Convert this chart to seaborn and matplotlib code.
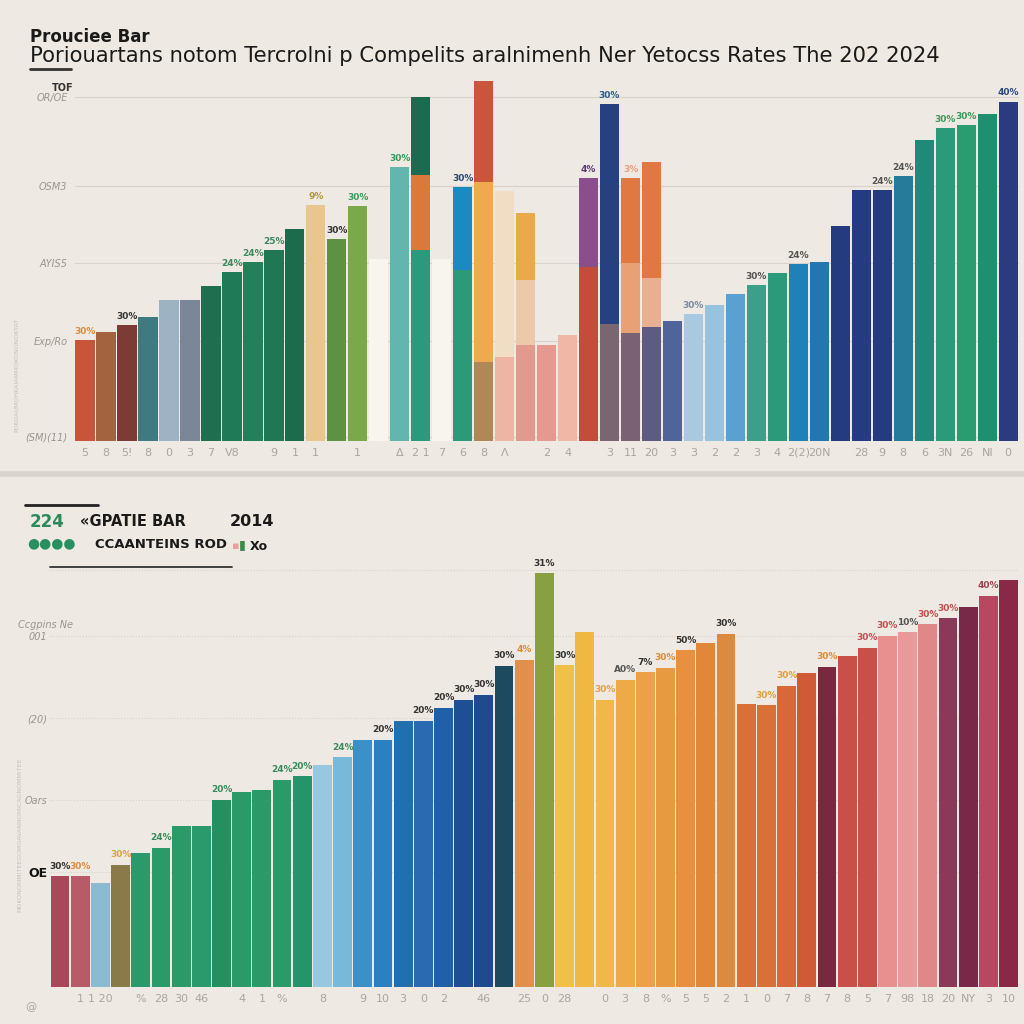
import matplotlib
matplotlib.use("Agg")
import pandas as pd
import matplotlib.pyplot as plt
from matplotlib.lines import Line2D
import seaborn as sns

# ---- top panel data (45 slots, two pale "blank" slots in the middle) ----
top_vals = [29.4, 31.7, 33.7, 36.0, 41.0, 41.0, 45.1, 49.1, 52.0, 55.5, 61.6,
            68.6, 58.7, 68.3, 53.0, 79.7, 100.0, 53.0, 73.8, 104.9, 72.7, 66.3,
            27.9, 30.8, 76.5, 98.0, 76.5, 81.1, 34.9, 36.9, 39.5, 42.7, 45.3,
            48.8, 51.5, 52.0, 62.5, 73.0, 73.0, 77.0, 87.5, 91.0, 91.9, 95.1, 98.8]
top_colors = ['#c8553a', '#a3633f', '#7d3b36', '#3f7a80', '#9db3c4', '#7b8699',
              '#1f6e50', '#1e7a57', '#22805a', '#1f7853', '#1b6b4c', '#e8c68e',
              '#5f9142', '#7aa84a', '#f8f5ef', '#63b6ad', '#1c6a50', '#f8f5ef',
              '#1a8bc2', '#c9553a', '#f1dcc4', '#e9ab4a', '#e5998f', '#f0b7a6',
              '#8b4e8d', '#27407f', '#e07844', '#e07844', '#4f6599', '#a9c9e1',
              '#97c3df', '#5aa1d2', '#3aa08a', '#2a9a7a', '#2081b9', '#2575b0',
              '#253b80', '#243a83', '#253b80', '#267b9b', '#1f8a78', '#2a9a78',
              '#2a9d70', '#1f8f70', '#2a3b80']
# middle / lower segments of the patchy stacked bars (0 = none)
top_mid = [0] * 16 + [77.3, 0, 0, 75.3, 0, 46.8, 0, 0, 50.6, 0, 51.7, 47.4] + [0] * 17
top_mid_colors = ['#dc7838'] * 45
top_mid_colors[19] = '#efa94f'
top_mid_colors[21] = '#ecc9aa'
top_mid_colors[24] = '#c54b3b'
top_mid_colors[26] = '#e8a074'
top_mid_colors[27] = '#e8b090'
top_low = [0] * 16 + [55.5, 0, 49.7, 23.0, 24.4, 27.9, 0, 0, 0, 34.0, 31.4, 33.1] + [0] * 17
top_low_colors = ['#2a9a7c'] * 45
top_low_colors[18] = '#2a9a78'
top_low_colors[19] = '#b08858'
top_low_colors[20] = '#eeb4a4'
top_low_colors[21] = '#e39a8e'
top_low_colors[25] = '#7a6670'
top_low_colors[26] = '#7b6272'
top_low_colors[27] = '#5d5a84'

top_xticks = ['5', '8', '5!', '8', '0', '3', '7', 'V8', '', '9', '1', '1', '', '1',
              '', 'Δ', '2 1', '7', '6', '8', 'Λ', '', '2', '4', '', '3', '11', '20',
              '3', '3', '2', '2', '3', '4', '2(2)', '20N', '', '28', '9', '8', '6',
              '3N', '26', 'NI', '0']
top_yticks = [1.2, 29.0, 51.7, 74.1, 100.0]
top_ytick_labels = ['(SM)(11)', 'Exp/Ro', 'AYIS5', 'OSM3', 'OR/OE']
top_bar_text = ['30%', '', '30%', '', '', '', '', '24%', '24%', '25%', '', '9%',
                '30%', '30%', '', '30%', '', '', '30%', '', '', '', '', '', '4%',
                '30%', '3%', '', '', '30%', '', '', '30%', '', '24%', '', '', '',
                '24%', '24%', '', '30%', '30%', '', '40%']
top_text_colors = ['#e08a3a', '#333', '#333', '#333', '#333', '#333', '#333',
                   '#3a8a5a', '#3a8a5a', '#3a8a5a', '#333', '#b09a30', '#333',
                   '#3a9a5a', '#333', '#3a9a5a', '#333', '#333', '#2a4a70', '#333',
                   '#333', '#333', '#333', '#333', '#5a3a70', '#2a5a8a', '#e8a080',
                   '#333', '#333', '#7a8aa0', '#333', '#333', '#555', '#333', '#555',
                   '#333', '#333', '#333', '#555', '#555', '#333', '#3a9a5a',
                   '#3a9a5a', '#333', '#2a4a80']

# ---- bottom panel data (48 bars) ----
bot_vals = [31.6, 31.6, 29.6, 34.8, 38.2, 39.6, 45.9, 45.9, 53.3, 55.6, 56.1,
            59.0, 60.1, 63.2, 65.5, 70.4, 70.4, 75.8, 75.8, 79.5, 81.8, 83.2,
            91.5, 93.2, 117.9, 91.7, 101.1, 81.8, 87.5, 89.7, 90.9, 96.0, 98.0,
            100.6, 80.6, 80.3, 85.8, 89.5, 91.2, 94.3, 96.6, 100.0, 101.1, 103.4,
            105.1, 108.3, 111.4, 116.0]
bot_colors = ['#a84858', '#b85a68', '#8bbad2', '#8a7a4a', '#2a9a6a', '#2a9a68',
              '#2a9a68', '#2a9a6a', '#24905f', '#2a9a68', '#2a9a68', '#2a9a68',
              '#26946a', '#98c8e0', '#78b8d8', '#3c90c8', '#2a80c0', '#2070b0',
              '#2a6ab0', '#2060a8', '#1e4f95', '#1e4a90', '#1e4a60', '#e0904a',
              '#88a040', '#f0c048', '#f0b840', '#f0b848', '#eeaa48', '#eca048',
              '#e89a40', '#e89040', '#e08838', '#dc8a40', '#d87038', '#d87038',
              '#d86838', '#d05a38', '#7a2840', '#c85048', '#c85048', '#e89090',
              '#e89a98', '#e08888', '#8a3a58', '#7a2848', '#b84860', '#8a2848']
bot_xticks = ['', '1', '1 20', '', '%', '28', '30', '46', '', '4', '1', '%', '',
              '8', '', '9', '10', '3', '0', '2', '', '46', '', '25', '0', '28', '',
              '0', '3', '8', '%', '5', '5', '2', '1', '0', '7', '8', '7', '8', '5',
              '7', '98', '18', '20', 'NY', '3', '10']
bot_yticks = [32.8, 53.3, 76.6, 100.0, 118.8]
bot_ytick_labels = ['OE', 'Oars', '(20)', '001', '']
bot_bar_text = ['30%', '30%', '', '30%', '', '24%', '', '', '20%', '', '', '24%',
                '20%', '', '24%', '', '20%', '', '20%', '20%', '30%', '30%', '30%',
                '4%', '31%', '30%', '', '30%', 'A0%', '7%', '30%', '50%', '', '30%',
                '', '30%', '30%', '', '30%', '', '30%', '30%', '10%', '30%', '30%',
                '', '40%', '']
bot_text_colors = ['#333', '#e08a3a', '#333', '#e0a040', '#333', '#3a8a5a', '#333',
                   '#333', '#3a8a5a', '#333', '#333', '#3a8a5a', '#3a8a5a', '#333',
                   '#3a8a5a', '#333', '#333', '#333', '#333', '#333', '#333', '#333',
                   '#333', '#e08a3a', '#333', '#333', '#333', '#e0a040', '#555',
                   '#333', '#e08a3a', '#333', '#333', '#333', '#333', '#e0a040',
                   '#e0a040', '#333', '#e08a3a', '#333', '#c05050', '#c05050',
                   '#555', '#c05050', '#c05050', '#333', '#a04050', '#333']

BG = '#eeeae3'


def draw_layer(ax, ids, vals, colors, width):
    df = pd.DataFrame({'slot': ids, 'val': vals})
    sns.barplot(data=df, x='slot', y='val', hue='slot', order=ids, hue_order=ids,
                palette=dict(zip(ids, colors)), width=width, errorbar=None,
                saturation=1, linewidth=0, legend=False, ax=ax)


def style_axis(ax, xt, yt, ytl, grid_ls, pad):
    ax.set_facecolor(BG)
    for s in ax.spines.values():
        s.set_visible(False)
    ax.set_xlabel('')
    ax.set_ylabel('')
    ax.set_xticks(range(len(xt)))
    ax.set_xticklabels(xt, fontsize=8, color='#aaa59e')
    ax.set_yticks(yt)
    ax.set_yticklabels(ytl, fontsize=7, color='#9a958e', style='italic')
    ax.tick_params(axis='x', length=0, pad=5)
    ax.tick_params(axis='y', length=0, pad=pad)
    ax.grid(axis='y', color='#d8d2c8', lw=0.8, ls=grid_ls)
    ax.set_axisbelow(True)


sns.set_theme(style='white')
plt.rcParams['font.family'] = ['DejaVu Sans']

fig = plt.figure(figsize=(10.24, 10.24), dpi=100, facecolor=BG)
ax1 = fig.add_axes([0.0728, 0.5693, 0.922, 0.357])
ax2 = fig.add_axes([0.0488, 0.0361, 0.946, 0.412])

# top panel
top_ids = [f't{i:02d}' for i in range(len(top_vals))]
draw_layer(ax1, top_ids, top_vals, top_colors, 0.92)
n_top = len(ax1.containers)
draw_layer(ax1, top_ids, top_mid, top_mid_colors, 0.92)
draw_layer(ax1, top_ids, top_low, top_low_colors, 0.92)
for cont, lab, col in zip(ax1.containers[:n_top], top_bar_text, top_text_colors):
    if lab:
        ax1.bar_label(cont, labels=[lab], color=col, fontsize=6.5,
                      fontweight='bold', padding=3)
style_axis(ax1, top_xticks, top_yticks, top_ytick_labels, '-', 5)
ax1.set_ylim(0, 106.4)
ax1.set_xlim(-0.5, len(top_vals) - 0.5)

# bottom panel
bot_ids = [f'b{i:02d}' for i in range(len(bot_vals))]
draw_layer(ax2, bot_ids, bot_vals, bot_colors, 0.93)
for cont, lab, col in zip(ax2.containers, bot_bar_text, bot_text_colors):
    if lab:
        ax2.bar_label(cont, labels=[lab], color=col, fontsize=6.5,
                      fontweight='bold', padding=4)
style_axis(ax2, bot_xticks, bot_yticks, bot_ytick_labels, ':', 2)
ax2.set_ylim(0, 120.2)
ax2.set_xlim(-0.5, len(bot_vals) - 0.5)
oe = ax2.get_yticklabels()[0]
oe.set_color('#111')
oe.set_fontweight('bold')
oe.set_style('normal')
oe.set_fontsize(9)

# headers
fig.text(30 / 1024, 1 - 37 / 1024, 'Prouciee Bar', fontsize=12, fontweight='bold',
         color='#1a1a1a', va='center')
fig.text(30 / 1024, 1 - 56 / 1024,
         'Poriouartans notom Tercrolni p Compelits aralnimenh Ner Yetocss Rates The 202 2024',
         fontsize=15.2, color='#1a1a1a', va='center')
fig.add_artist(Line2D([30 / 1024, 71 / 1024], [1 - 69 / 1024] * 2, color='#333', lw=2))
fig.text(52 / 1024, 1 - 88 / 1024, 'TOF', fontsize=7, fontweight='bold', color='#333',
         va='center')
fig.text(18 / 1024, 1 - 625 / 1024, 'Ccgpins Ne', fontsize=7, style='italic',
         color='#9a958e', va='center')
fig.text(17 / 1024, 1 - 375 / 1024, 'POKOAUMOHKAIAMMOKONONOKTAT', fontsize=4.5,
         color='#c4bfb8', rotation=90, va='center', ha='center')
fig.text(20 / 1024, 1 - 835 / 1024, 'MOKONOMMITEEGOMOAVANNOMICAGNOMMITEE', fontsize=4.5,
         color='#c4bfb8', rotation=90, va='center', ha='center')
fig.text(25 / 1024, 1 - 1007 / 1024, '@', fontsize=8, color='#aaa59e', va='center')

# separator between panels
fig.add_artist(Line2D([0, 1], [1 - 474 / 1024] * 2, color='#d8d3cc', lw=4))

# bottom header block
fig.add_artist(Line2D([25 / 1024, 98 / 1024], [1 - 505 / 1024] * 2, color='#222', lw=2))
fig.text(30 / 1024, 1 - 522 / 1024, '224', fontsize=12, fontweight='bold',
         color='#2a8a5a', va='center')
fig.text(80 / 1024, 1 - 522 / 1024, '«GPATIE BAR', fontsize=10.5, fontweight='bold',
         color='#1a1a1a', va='center')
fig.text(230 / 1024, 1 - 522 / 1024, '2014', fontsize=11.5, fontweight='bold',
         color='#1a1a1a', va='center')
fig.text(27 / 1024, 1 - 543 / 1024, '●●●●', fontsize=10, color='#2a8f5e', va='center')
fig.text(95 / 1024, 1 - 544 / 1024, 'CCAANTEINS ROD', fontsize=9.5, fontweight='bold',
         color='#1a1a1a', va='center')
fig.text(232 / 1024, 1 - 546 / 1024, '▪', fontsize=8, color='#e8a098', va='center')
fig.text(239 / 1024, 1 - 545 / 1024, '▮', fontsize=9, color='#3a8a4a', va='center')
fig.text(250 / 1024, 1 - 547 / 1024, 'Xo', fontsize=9, fontweight='bold',
         color='#1a1a1a', va='center')
fig.add_artist(Line2D([50 / 1024, 232 / 1024], [1 - 567 / 1024] * 2, color='#333', lw=1.3))

fig.savefig('out.png', dpi=100, facecolor=BG)
